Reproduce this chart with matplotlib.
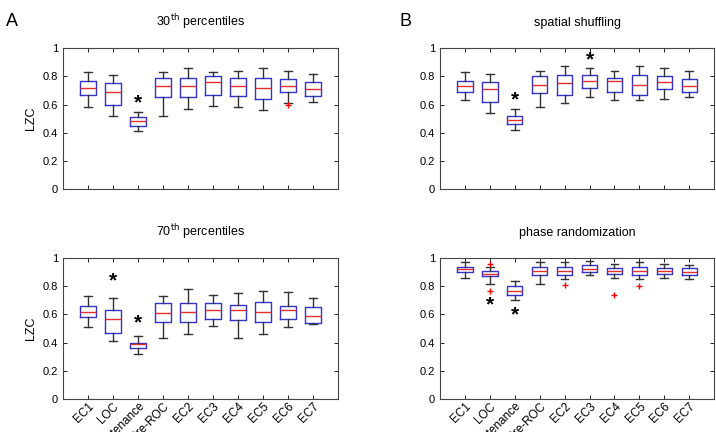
import matplotlib
matplotlib.use('Agg')
import matplotlib.pyplot as plt

plt.rcParams['font.family'] = ['Liberation Sans', 'DejaVu Sans']

categories = ['EC1', 'LOC', 'Maintenance', 'Pre-ROC', 'EC2', 'EC3', 'EC4', 'EC5', 'EC6', 'EC7']

# each row: low whisker, q1, median, q3, high whisker
p30 = [[0.58, 0.67, 0.72, 0.77, 0.83],
       [0.52, 0.60, 0.69, 0.75, 0.81],
       [0.41, 0.45, 0.48, 0.51, 0.55],
       [0.52, 0.65, 0.73, 0.79, 0.83],
       [0.57, 0.65, 0.73, 0.79, 0.86],
       [0.59, 0.67, 0.76, 0.80, 0.83],
       [0.58, 0.66, 0.73, 0.79, 0.84],
       [0.56, 0.64, 0.72, 0.79, 0.86],
       [0.61, 0.69, 0.73, 0.78, 0.84],
       [0.62, 0.66, 0.71, 0.76, 0.82]]
p30_out = [[], [], [], [], [], [], [], [], [0.595], []]
p30_star = {'Maintenance': 0.61}

p70 = [[0.51, 0.58, 0.62, 0.66, 0.73],
       [0.41, 0.47, 0.57, 0.63, 0.72],
       [0.32, 0.36, 0.39, 0.40, 0.45],
       [0.43, 0.55, 0.61, 0.68, 0.73],
       [0.46, 0.55, 0.62, 0.68, 0.78],
       [0.52, 0.57, 0.63, 0.68, 0.74],
       [0.43, 0.56, 0.63, 0.67, 0.75],
       [0.46, 0.55, 0.62, 0.69, 0.77],
       [0.51, 0.57, 0.63, 0.66, 0.76],
       [0.53, 0.54, 0.59, 0.65, 0.72]]
p70_out = [[], [], [], [], [], [], [], [], [], []]
p70_star = {'LOC': 0.84, 'Maintenance': 0.54}

spatial = [[0.63, 0.69, 0.73, 0.77, 0.83],
           [0.54, 0.62, 0.71, 0.76, 0.82],
           [0.42, 0.46, 0.49, 0.52, 0.57],
           [0.58, 0.68, 0.74, 0.80, 0.84],
           [0.61, 0.67, 0.75, 0.81, 0.87],
           [0.65, 0.72, 0.77, 0.81, 0.86],
           [0.63, 0.69, 0.77, 0.79, 0.84],
           [0.63, 0.67, 0.74, 0.81, 0.87],
           [0.64, 0.71, 0.76, 0.80, 0.86],
           [0.65, 0.69, 0.73, 0.78, 0.84]]
spatial_out = [[], [], [], [], [], [], [], [], [], []]
spatial_star = {'Maintenance': 0.63, 'EC3': 0.92}

phase = [[0.86, 0.90, 0.92, 0.94, 0.97],
         [0.82, 0.87, 0.89, 0.91, 0.94],
         [0.70, 0.74, 0.77, 0.80, 0.84],
         [0.82, 0.88, 0.91, 0.94, 0.97],
         [0.85, 0.88, 0.91, 0.94, 0.97],
         [0.88, 0.90, 0.92, 0.95, 0.98],
         [0.86, 0.89, 0.91, 0.93, 0.96],
         [0.85, 0.88, 0.91, 0.94, 0.97],
         [0.86, 0.89, 0.91, 0.93, 0.96],
         [0.85, 0.88, 0.90, 0.93, 0.95]]
phase_out = [[], [0.96, 0.77], [], [], [0.81], [], [0.74], [0.80], [], []]
phase_star = {'LOC': 0.67, 'Maintenance': 0.60}

yticks = [0, 0.2, 0.4, 0.6, 0.8, 1]
yticklabels = ['0', '0.2', '0.4', '0.6', '0.8', '1']


def draw_panel(ax, rows, outliers, stars, title, ylabel, xlabels):
    stats = []
    for name, r, o in zip(categories, rows, outliers):
        stats.append({'label': name, 'whislo': r[0], 'q1': r[1], 'med': r[2],
                      'q3': r[3], 'whishi': r[4], 'fliers': o})
    ax.bxp(stats, widths=0.62, showfliers=True,
           boxprops=dict(color='#3333cc', linewidth=1.0),
           medianprops=dict(color='#e03030', linewidth=1.0),
           whiskerprops=dict(color='#333333', linewidth=1.0),
           capprops=dict(color='#333333', linewidth=1.0),
           flierprops=dict(marker='+', markeredgecolor='red', markersize=5, linestyle='none'))
    for name, y in stars.items():
        ax.text(categories.index(name) + 1, y, '*', ha='center', va='center',
                fontsize=15, fontweight='bold')
    ax.set_xlim(0, 11)
    ax.set_ylim(0, 1)
    ax.set_yticks(yticks)
    ax.set_yticklabels(yticklabels, fontsize=8)
    ax.set_xticks(range(1, 11))
    if xlabels:
        ax.set_xticklabels(categories, rotation=45, ha='right', rotation_mode='anchor',
                           fontsize=8.5, family=['Liberation Sans Narrow', 'Liberation Sans'])
    else:
        ax.set_xticklabels([])
    ax.tick_params(direction='in', top=True, right=True, length=3, width=0.6)
    ax.tick_params(axis='x', pad=1)
    for s in ax.spines.values():
        s.set_linewidth(0.8)
        s.set_color('#444444')
    ax.set_title(title, fontsize=9, pad=16)
    if ylabel:
        ax.set_ylabel('LZC', fontsize=9)


fig = plt.figure(figsize=(7.16, 4.32), dpi=100)
ax1 = fig.add_axes([0.088, 0.5625, 0.384, 0.326])
ax2 = fig.add_axes([0.088, 0.0764, 0.384, 0.326])
ax3 = fig.add_axes([0.6145, 0.5625, 0.383, 0.326])
ax4 = fig.add_axes([0.6145, 0.0764, 0.383, 0.326])

draw_panel(ax1, p30, p30_out, p30_star, '30$^{\\rm th}$ percentiles', True, False)
draw_panel(ax2, p70, p70_out, p70_star, '70$^{\\rm th}$ percentiles', True, True)
draw_panel(ax3, spatial, spatial_out, spatial_star, 'spatial shuffling', False, False)
draw_panel(ax4, phase, phase_out, phase_star, 'phase randomization', False, True)

fig.text(0.008, 0.97, 'A', fontsize=13, va='top')
fig.text(0.558, 0.97, 'B', fontsize=13, va='top')

fig.savefig('out.png', dpi=100)
